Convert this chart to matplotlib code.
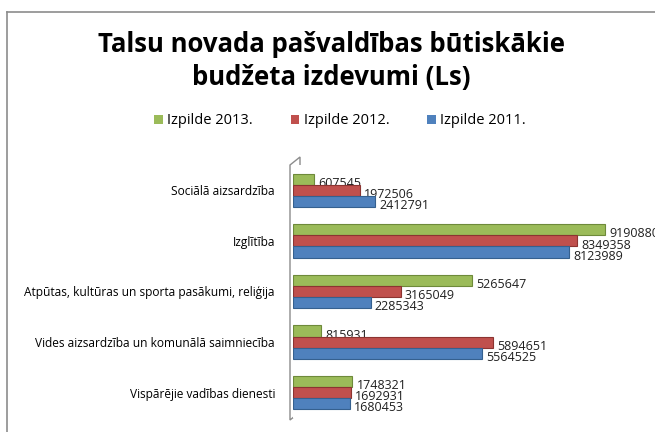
import numpy as np
import matplotlib.pyplot as plt
from matplotlib.lines import Line2D
from matplotlib.patches import Polygon, Patch

categories = ['Sociālā aizsardzība', 'Izglītība',
              'Atpūtas, kultūras un sporta pasākumi, reliģija',
              'Vides aizsardzība un komunālā saimniecība',
              'Vispārējie vadības dienesti']
izpilde_2013 = [607545, 9190880, 5265647, 815931, 1748321]
izpilde_2012 = [1972506, 8349358, 3165049, 5894651, 1692931]
izpilde_2011 = [2412791, 8123989, 2285343, 5564525, 1680453]
series_names = ['Izpilde 2013.', 'Izpilde 2012.', 'Izpilde 2011.']

colors = ['#9BBB59', '#C0504D', '#4F81BD']
edges = ['#6E8A3A', '#8C3431', '#35608F']

plt.rcParams['font.family'] = ['Open Sans', 'DejaVu Sans']

fig = plt.figure(figsize=(6.55, 4.32), dpi=100)
fig.patch.set_facecolor('white')

# chart border (left and top only visible)
fig.add_artist(Line2D([7 / 655, 7 / 655], [0, 1 - 12 / 432], color='#8C8C8C', lw=1.2))
fig.add_artist(Line2D([7 / 655, 1], [1 - 12 / 432, 1 - 12 / 432], color='#8C8C8C', lw=1.2))

fig.text(331 / 655, 1 - 45 / 432, 'Talsu novada pašvaldības būtiskākie',
         ha='center', va='center', fontsize=18.5, fontweight='bold')
fig.text(331 / 655, 1 - 77 / 432, 'budžeta izdevumi (Ls)',
         ha='center', va='center', fontsize=18.5, fontweight='bold')

ax = fig.add_axes([293 / 655, 1 - 418 / 432, 340 / 655, 253 / 432])
y = np.arange(len(categories))
h = 0.22
all_series = [izpilde_2013, izpilde_2012, izpilde_2011]
for i, (vals, c, ec) in enumerate(zip(all_series, colors, edges)):
    pos = y + (i - 1) * h
    ax.barh(pos, vals, height=h, color=c, edgecolor=ec, linewidth=0.8,
            label=series_names[i], zorder=3)
    for p, v in zip(pos, vals):
        ax.annotate(str(v), (v, p), xytext=(3, -3), textcoords='offset points',
                    ha='left', va='center', fontsize=9, color='#202020')

ax.set_xlim(0, 10000000)
ax.set_ylim(len(categories) - 0.5, -0.5)
ax.set_yticks(y)
ax.set_yticklabels(categories, fontsize=8.6)
ax.tick_params(axis='y', length=0, pad=13)
ax.set_xticks([])
for s in ax.spines.values():
    s.set_visible(False)

# 3D side wall
x0 = 290 / 655
x1 = 300 / 655
wall = Polygon([(x0, 1 - 420 / 432), (x0, 1 - 165 / 432),
                (x1, 1 - 157 / 432), (x1, 1 - 412 / 432)],
               closed=True, transform=fig.transFigure, facecolor='white',
               edgecolor='#8C8C8C', lw=1, zorder=0)
fig.add_artist(wall)

handles = [Patch(facecolor=c) for c in colors]
fig.legend(handles, series_names, loc='center', bbox_to_anchor=(340 / 655, 1 - 121 / 432),
           ncol=3, frameon=False, fontsize=10.5, handlelength=0.6, handleheight=0.6,
           handletextpad=0.3, columnspacing=2.6)

fig.savefig('out.png', dpi=100)
